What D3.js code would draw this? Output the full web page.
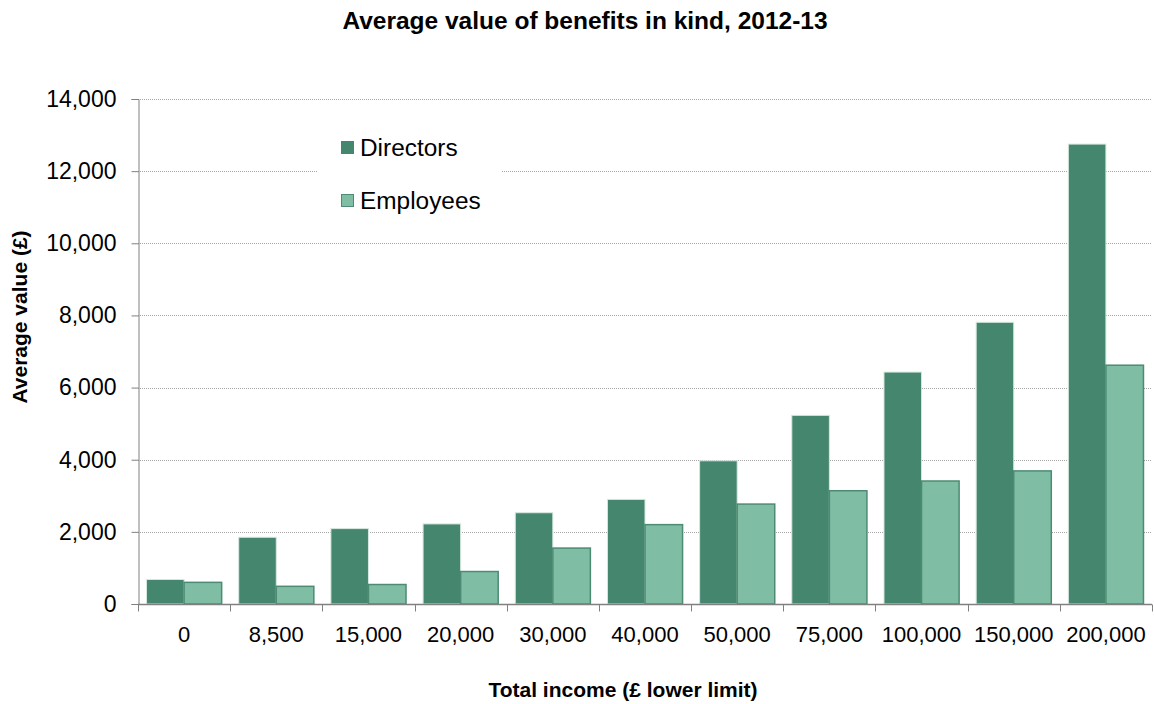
<!DOCTYPE html>
<html>
<head>
<meta charset="utf-8">
<script src="https://cdn.jsdelivr.net/npm/d3@7/dist/d3.min.js"></script>
<style>
  body { margin: 0; background: #fff; }
  text { font-family: "Liberation Sans", Arial, sans-serif; }
</style>
</head>
<body>
<svg id="chart" width="1154" height="704"></svg>
<script>
var categories = ["0","8,500","15,000","20,000","30,000","40,000","50,000","75,000","100,000","150,000","200,000"];
var directors = [680, 1850, 2090, 2220, 2530, 2900, 3970, 5230, 6430, 7810, 12750];
var employees = [600, 490, 540, 900, 1550, 2200, 2770, 3140, 3410, 3690, 6620];
var seriesNames = ["Directors", "Employees"];
var yTicks = [0, 2000, 4000, 6000, 8000, 10000, 12000, 14000];

var colFill = ["#45866e", "#7fbea5"];
var colStroke = ["#d6e8e0", "#4d8b74"];

var svg = d3.select("#chart");
var pLeft = 138, pRight = 1152, pTop = 99, pBottom = 604;

var x0 = d3.scaleBand().domain(categories).range([pLeft, pRight])
  .paddingInner(0.185).paddingOuter(0.0925);
var x1 = d3.scaleBand().domain(seriesNames).range([0, x0.bandwidth()]);
var y = d3.scaleLinear().domain([0, 14000]).range([pBottom, pTop]);

// gridlines
svg.append("g").selectAll("line").data(yTicks.slice(1))
  .enter().append("line")
  .attr("x1", pLeft).attr("x2", pRight)
  .attr("y1", function(d) { return Math.round(y(d)) + 0.5; })
  .attr("y2", function(d) { return Math.round(y(d)) + 0.5; })
  .attr("stroke", "#a6a6a6")
  .attr("stroke-dasharray", "1,1");

// bars
var rows = categories.map(function(c, i) {
  return { cat: c, vals: [directors[i], employees[i]] };
});
var grp = svg.append("g").selectAll("g").data(rows)
  .enter().append("g")
  .attr("transform", function(d) { return "translate(" + x0(d.cat) + ",0)"; });
grp.selectAll("rect").data(function(d) { return d.vals; })
  .enter().append("rect")
  .attr("x", function(d, i) { return x1(seriesNames[i]); })
  .attr("y", function(d) { return y(d); })
  .attr("width", x1.bandwidth())
  .attr("height", function(d) { return pBottom - y(d); })
  .attr("fill", function(d, i) { return colFill[i]; })
  .attr("stroke", function(d, i) { return colStroke[i]; })
  .attr("stroke-width", function(d, i) { return i == 0 ? 1 : 1.5; });

// y axis
var yAxis = d3.axisLeft(y).tickValues(yTicks).tickSize(7).tickPadding(15)
  .tickFormat(d3.format(","));
var gy = svg.append("g").attr("transform", "translate(" + (pLeft + 0.5) + ",0)").call(yAxis);
gy.select(".domain").attr("stroke", "#808080");
gy.selectAll(".tick line").attr("stroke", "#808080");
gy.selectAll(".tick text").attr("font-size", "23px").attr("fill", "#000")
  .attr("font-family", "Liberation Sans, Arial, sans-serif");

// x axis
var gx = svg.append("g").attr("transform", "translate(0," + (pBottom + 0.5) + ")");
gx.append("line").attr("x1", pLeft).attr("x2", pRight).attr("stroke", "#808080").attr("stroke-width", 1.5);
var bounds = categories.map(function(c) { return x0(c) - x0.step() * x0.paddingInner() / 2; });
bounds.push(pRight - 0.5);
gx.selectAll("line.tk").data(bounds).enter().append("line").attr("class", "tk")
  .attr("x1", function(d) { return Math.round(d) + 0.5; })
  .attr("x2", function(d) { return Math.round(d) + 0.5; })
  .attr("y1", 0).attr("y2", 7).attr("stroke", "#808080");
gx.selectAll("text").data(categories).enter().append("text")
  .attr("x", function(d) { return x0(d) + x0.bandwidth() / 2; })
  .attr("y", 37)
  .attr("text-anchor", "middle")
  .attr("font-size", "22px")
  .text(function(d) { return d; });

// legend
var lg = svg.append("g");
lg.append("rect").attr("x", 318).attr("y", 128).attr("width", 184).attr("height", 90).attr("fill", "#fff");
seriesNames.forEach(function(s, i) {
  var yy = 141 + i * 53;
  lg.append("rect").attr("x", 341.5).attr("y", yy + 0.5).attr("width", 12).attr("height", 12)
    .attr("fill", colFill[i]).attr("stroke", i == 0 ? colFill[0] : colStroke[1]).attr("stroke-width", 1);
  lg.append("text").attr("x", 360).attr("y", yy + 15).attr("font-size", "24.4px").text(s);
});

// titles
svg.append("text").attr("x", 585).attr("y", 29).attr("text-anchor", "middle")
  .attr("font-size", "24.5px").attr("font-weight", "bold").text("Average value of benefits in kind, 2012-13");
svg.append("text").attr("x", 623).attr("y", 697).attr("text-anchor", "middle")
  .attr("font-size", "21px").attr("font-weight", "bold").text("Total income (£ lower limit)");
svg.append("text").attr("transform", "translate(27,317) rotate(-90)").attr("text-anchor", "middle")
  .attr("font-size", "21px").attr("font-weight", "bold").text("Average value (£)");
</script>
</body>
</html>
